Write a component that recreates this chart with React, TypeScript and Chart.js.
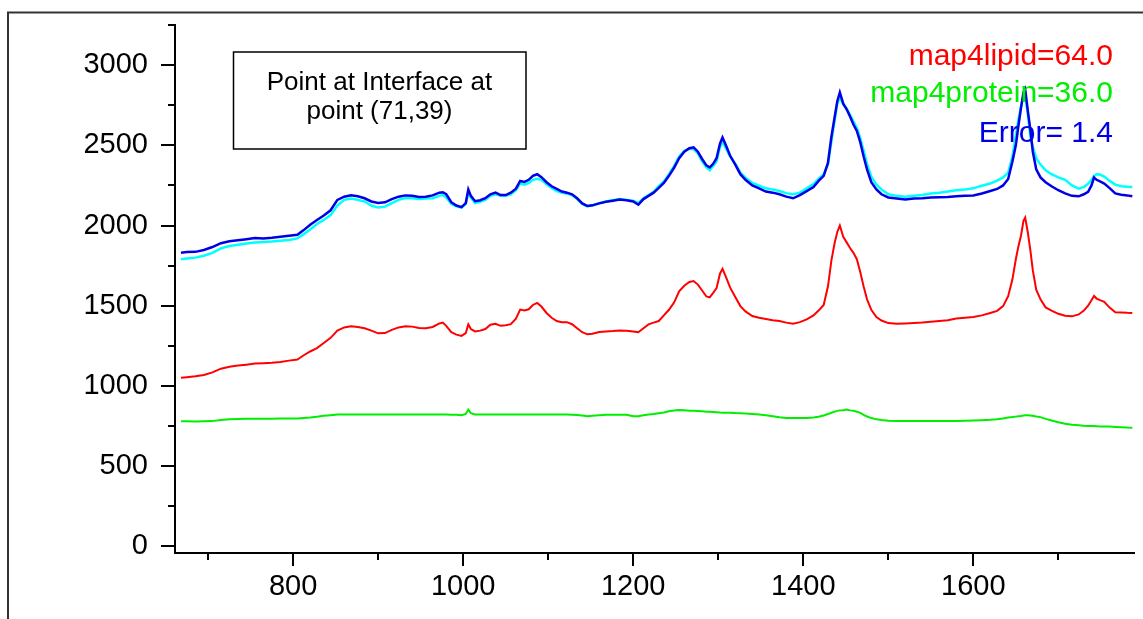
import React, { useEffect, useRef } from "react";
import { Chart, registerables } from "chart.js";
Chart.register(...registerables);

// Raman shift (cm-1)
const wavenumbers = [
  668, 675, 685, 695, 705, 715, 725, 735, 745, 755,
  765, 775, 785, 795, 805, 812, 820, 828, 836, 844,
  852, 860, 868, 876, 884, 892, 900, 908, 916, 924,
  932, 940, 948, 956, 964, 972, 976, 980, 986, 992,
  998, 1003, 1006, 1009, 1014, 1020, 1026, 1032, 1038, 1044,
  1050, 1056, 1062, 1067, 1072, 1077, 1082, 1087, 1092, 1098,
  1104, 1110, 1116, 1122, 1128, 1134, 1140, 1146, 1152, 1160,
  1168, 1176, 1184, 1192, 1200, 1206, 1212, 1218, 1224, 1230,
  1236, 1242, 1248, 1254, 1260, 1266, 1271, 1276, 1281, 1286,
  1290, 1294, 1298, 1302, 1305, 1309, 1314, 1320, 1326, 1332,
  1340, 1348, 1356, 1364, 1372, 1380, 1388, 1396, 1404, 1412,
  1418, 1424, 1429, 1433, 1437, 1440, 1443, 1447, 1451, 1455,
  1459, 1463, 1467, 1471, 1475, 1480, 1486, 1492, 1500, 1510,
  1520, 1530, 1540, 1550, 1560, 1570, 1580, 1590, 1600, 1610,
  1620, 1628, 1635, 1641, 1646, 1650, 1653, 1656, 1659, 1661,
  1664, 1667, 1670, 1674, 1679, 1685, 1692, 1700, 1708, 1716,
  1724, 1730, 1735, 1739, 1742, 1745, 1749, 1754, 1760, 1767,
  1774, 1781, 1787,
];

// measured spectrum (dark blue)
const measured = [
  1831, 1835, 1836, 1848, 1866, 1890, 1902, 1908, 1915, 1922,
  1920, 1924, 1930, 1936, 1942, 1970, 2005, 2035, 2062, 2095,
  2160, 2180, 2188, 2182, 2170, 2150, 2140, 2145, 2165, 2180,
  2188, 2185, 2178, 2180, 2188, 2205, 2208, 2195, 2145, 2125,
  2115, 2140, 2225, 2185, 2152, 2158, 2170, 2195, 2205, 2190,
  2190, 2205, 2230, 2278, 2272, 2285, 2310, 2320, 2302, 2270,
  2245, 2228, 2212, 2205, 2195, 2170, 2138, 2122, 2126, 2138,
  2148, 2155, 2162, 2158, 2150, 2130, 2165, 2185, 2205, 2235,
  2265, 2310, 2360, 2420, 2460, 2482, 2487, 2460, 2415, 2375,
  2362, 2385, 2420, 2510, 2549, 2500, 2435, 2380, 2320, 2285,
  2250, 2232, 2212, 2205, 2195, 2180, 2170, 2190, 2215, 2240,
  2278, 2310, 2390, 2550, 2680, 2775, 2830, 2760, 2725, 2680,
  2630, 2590, 2520, 2430, 2350, 2270, 2225, 2195, 2175, 2168,
  2162, 2168, 2170, 2175, 2176, 2178, 2182, 2185, 2188, 2200,
  2215, 2228, 2250, 2290, 2400, 2500, 2620, 2730, 2830, 2850,
  2720, 2600, 2460, 2351, 2300, 2270, 2245, 2220, 2200, 2185,
  2182, 2195, 2210, 2250, 2300, 2285, 2275, 2262, 2235, 2200,
  2192, 2188, 2182,
];

// fitted spectrum (cyan)
const fitted = [
  1790, 1795, 1800, 1812, 1830, 1858, 1872, 1880, 1888, 1895,
  1898, 1900, 1905, 1910, 1920, 1945, 1975, 2010, 2035, 2065,
  2125, 2160, 2168, 2160, 2150, 2125, 2112, 2118, 2140, 2160,
  2172, 2170, 2165, 2168, 2170, 2185, 2190, 2175, 2135, 2120,
  2112, 2135, 2205, 2175, 2140, 2148, 2160, 2185, 2195, 2185,
  2185, 2195, 2220, 2262, 2255, 2265, 2285, 2292, 2285, 2258,
  2235, 2215, 2205, 2200, 2190, 2165, 2135, 2120, 2125, 2140,
  2150, 2158, 2165, 2160, 2155, 2140, 2170, 2190, 2210, 2245,
  2275, 2320, 2370, 2430, 2465, 2478, 2475, 2450, 2400, 2362,
  2345, 2372, 2400, 2490, 2525, 2480, 2430, 2385, 2330, 2298,
  2265, 2248, 2232, 2225, 2215, 2202, 2195, 2205, 2232, 2258,
  2292, 2320, 2380, 2520, 2660, 2760, 2800, 2755, 2730, 2690,
  2650, 2610, 2545, 2465, 2385, 2305, 2255, 2225, 2195, 2185,
  2180, 2185, 2190, 2200, 2205, 2212, 2220, 2225, 2232, 2248,
  2262, 2280, 2300, 2330, 2430, 2560, 2660, 2740, 2810, 2820,
  2700, 2560, 2490, 2420, 2380, 2345, 2320, 2300, 2285, 2250,
  2230, 2240, 2260, 2285, 2310, 2320, 2318, 2305, 2280, 2255,
  2245, 2242, 2240,
];

// lipid component (red)
const lipid = [
  1051, 1055, 1060, 1068, 1085, 1108, 1120, 1127, 1133, 1140,
  1142, 1145, 1150, 1158, 1165, 1190, 1215, 1236, 1268, 1300,
  1345, 1365, 1372, 1368, 1360, 1345, 1328, 1330, 1350, 1365,
  1372, 1370, 1362, 1360, 1368, 1390, 1395, 1375, 1335, 1320,
  1312, 1330, 1384, 1355, 1340, 1345, 1355, 1382, 1388, 1375,
  1378, 1385, 1420, 1476, 1470, 1478, 1505, 1518, 1495, 1455,
  1425, 1405, 1398, 1398, 1385, 1360, 1335, 1322, 1326, 1336,
  1340, 1342, 1346, 1344, 1340, 1335, 1360, 1384, 1395, 1405,
  1440, 1475, 1520, 1590, 1625, 1648, 1654, 1632, 1595, 1558,
  1552, 1580, 1610, 1700, 1730, 1680, 1613, 1555, 1498, 1465,
  1436, 1425, 1418, 1410, 1405, 1395, 1388, 1398, 1415, 1440,
  1470, 1505, 1620, 1780, 1894, 1960, 2000, 1930, 1895, 1860,
  1830, 1790, 1710, 1620, 1540, 1475, 1430, 1408, 1392, 1388,
  1390, 1392, 1395, 1400, 1405, 1410, 1420, 1425, 1430, 1440,
  1455, 1468, 1498, 1560, 1665, 1790, 1870, 1935, 2030, 2050,
  1960, 1850, 1720, 1600, 1540, 1490, 1470, 1450, 1438, 1434,
  1446, 1470, 1500, 1535, 1561, 1545, 1535, 1525, 1490, 1460,
  1458, 1456, 1455,
];

// protein component (green)
const protein = [
  780, 780, 779, 780, 781, 788, 793, 794, 795, 796,
  796, 796, 797, 797, 798, 800, 803, 808, 814, 818,
  822, 823, 822, 823, 822, 823, 822, 823, 822, 823,
  822, 823, 822, 823, 822, 823, 822, 822, 821, 820,
  818, 826, 853, 830, 822, 823, 822, 823, 822, 823,
  823, 822, 823, 822, 823, 823, 822, 823, 822, 823,
  823, 822, 823, 822, 821, 819, 816, 812, 814, 818,
  820, 821, 821, 820, 812, 812, 818, 822, 825, 830,
  835, 842, 847, 850, 848, 846, 846, 844, 842, 840,
  839, 838, 836, 834, 833, 833, 833, 831, 830, 828,
  826, 822, 818, 812, 805, 801, 800, 800, 801, 803,
  808, 816, 825, 833, 840, 845, 848, 849, 853, 848,
  845, 840, 832, 820, 810, 800, 792, 788, 784, 782,
  781, 781, 781, 781, 781, 781, 782, 783, 785, 787,
  789, 793, 798, 803, 806, 809, 811, 813, 816, 818,
  817, 816, 814, 810, 806, 795, 785, 774, 764, 758,
  755, 752, 751, 750, 750, 749, 748, 748, 747, 745,
  743, 741, 740,
];

const xMajorTicks = [800, 1000, 1200, 1400, 1600];
const xMinorTicks = [700, 900, 1100, 1300, 1500, 1700];
const yMajorTicks = [0, 500, 1000, 1500, 2000, 2500, 3000];
const yMinorTicks = [250, 750, 1250, 1750, 2250, 2750, 3250];

const boxLines = ["Point at Interface at", "point (71,39)"];
const resultLabels = ["map4lipid=64.0", "map4protein=36.0", "Error= 1.4"];
const resultColors = ["#ff0000", "#00ee00", "#0000e6"];

const FONT = "'Liberation Sans', Arial, Helvetica, sans-serif";

const decorPlugin = {
  id: "decor",
  afterDraw(chart: any) {
    const ctx = chart.ctx as CanvasRenderingContext2D;
    const xs = chart.scales.x;
    const ys = chart.scales.y;
    const { left, bottom } = chart.chartArea;
    ctx.save();
    // outer frame
    ctx.strokeStyle = "#333";
    ctx.lineWidth = 2;
    ctx.beginPath();
    ctx.moveTo(8, 700);
    ctx.lineTo(8, 12.5);
    ctx.lineTo(1300, 12.5);
    ctx.stroke();

    // ticks
    ctx.strokeStyle = "#000";
    ctx.lineWidth = 2;
    ctx.beginPath();
    yMajorTicks.forEach((v) => {
      const p = Math.round(ys.getPixelForValue(v));
      ctx.moveTo(left - 14, p);
      ctx.lineTo(left, p);
    });
    yMinorTicks.forEach((v) => {
      const p = Math.round(ys.getPixelForValue(v));
      ctx.moveTo(left - 7, p);
      ctx.lineTo(left, p);
    });
    xMajorTicks.forEach((v) => {
      const p = Math.round(xs.getPixelForValue(v));
      ctx.moveTo(p, bottom);
      ctx.lineTo(p, bottom + 13);
    });
    xMinorTicks.forEach((v) => {
      const p = Math.round(xs.getPixelForValue(v));
      ctx.moveTo(p, bottom);
      ctx.lineTo(p, bottom + 7);
    });
    ctx.stroke();

    // info box
    ctx.lineWidth = 1.5;
    ctx.strokeStyle = "#000";
    ctx.strokeRect(233.5, 52, 292.5, 97);
    ctx.fillStyle = "#000";
    ctx.font = `26px ${FONT}`;
    ctx.textAlign = "center";
    ctx.textBaseline = "alphabetic";
    ctx.fillText(boxLines[0], 379.5, 89.5);
    ctx.fillText(boxLines[1], 379.5, 118.5);

    // results text
    ctx.font = `30px ${FONT}`;
    ctx.textAlign = "right";
    const baselines = [65, 102, 141.5];
    resultLabels.forEach((t, i) => {
      ctx.fillStyle = resultColors[i];
      ctx.fillText(t, 1113, baselines[i]);
    });
    ctx.restore();
  },
};

export default function App() {
  const ref = useRef<HTMLCanvasElement | null>(null);
  useEffect(() => {
    if (!ref.current) return;
    const mk = (arr: number[]) => wavenumbers.map((x, i) => ({ x, y: arr[i] }));
    const chart = new Chart(ref.current, {
      type: "line",
      data: {
        datasets: [
          { label: "measured", data: mk(measured), borderColor: "#0000e6", borderWidth: 2.5, pointRadius: 0, tension: 0 },
          { label: "fit", data: mk(fitted), borderColor: "#00ffff", borderWidth: 2.5, pointRadius: 0, tension: 0 },
          { label: "lipid", data: mk(lipid), borderColor: "#ff0000", borderWidth: 2, pointRadius: 0, tension: 0 },
          { label: "protein", data: mk(protein), borderColor: "#00ee00", borderWidth: 2, pointRadius: 0, tension: 0 },
        ],
      },
      options: {
        animation: false,
        responsive: false,
        devicePixelRatio: 1,
        layout: { padding: { top: 25, right: 9, left: 0, bottom: 0 } },
        plugins: { legend: { display: false }, tooltip: { enabled: false } },
        scales: {
          x: {
            type: "linear",
            min: 661,
            max: 1789,
            grid: { display: false },
            border: { display: true, color: "#000", width: 2 },
            ticks: {
              autoSkip: false,
              maxRotation: 0,
              padding: 9,
              color: "#000",
              font: { family: FONT, size: 29 },
              callback: (v: any) => String(v),
            },
            afterBuildTicks: (s: any) => {
              s.ticks = xMajorTicks.map((v) => ({ value: v }));
            },
            afterFit: (s: any) => {
              s.height = 66;
              s.paddingLeft = 0;
              s.paddingRight = 0;
            },
          },
          y: {
            type: "linear",
            min: -41,
            max: 3250,
            grid: { display: false },
            border: { display: true, color: "#000", width: 2 },
            ticks: {
              autoSkip: false,
              padding: 19,
              color: "#000",
              font: { family: FONT, size: 29 },
              callback: (v: any) => String(v),
            },
            afterBuildTicks: (s: any) => {
              s.ticks = yMajorTicks.map((v) => ({ value: v }));
            },
            afterFit: (s: any) => {
              s.width = 175;
              s.paddingTop = 0;
              s.paddingBottom = 0;
            },
          },
        },
      },
      plugins: [decorPlugin],
    });
    return () => chart.destroy();
  }, []);
  return (
    <div style={{ position: "absolute", left: 0, top: 0, width: 1143, height: 619, background: "#fff" }}>
      <canvas ref={ref} width={1143} height={619} style={{ display: "block" }} />
    </div>
  );
}
